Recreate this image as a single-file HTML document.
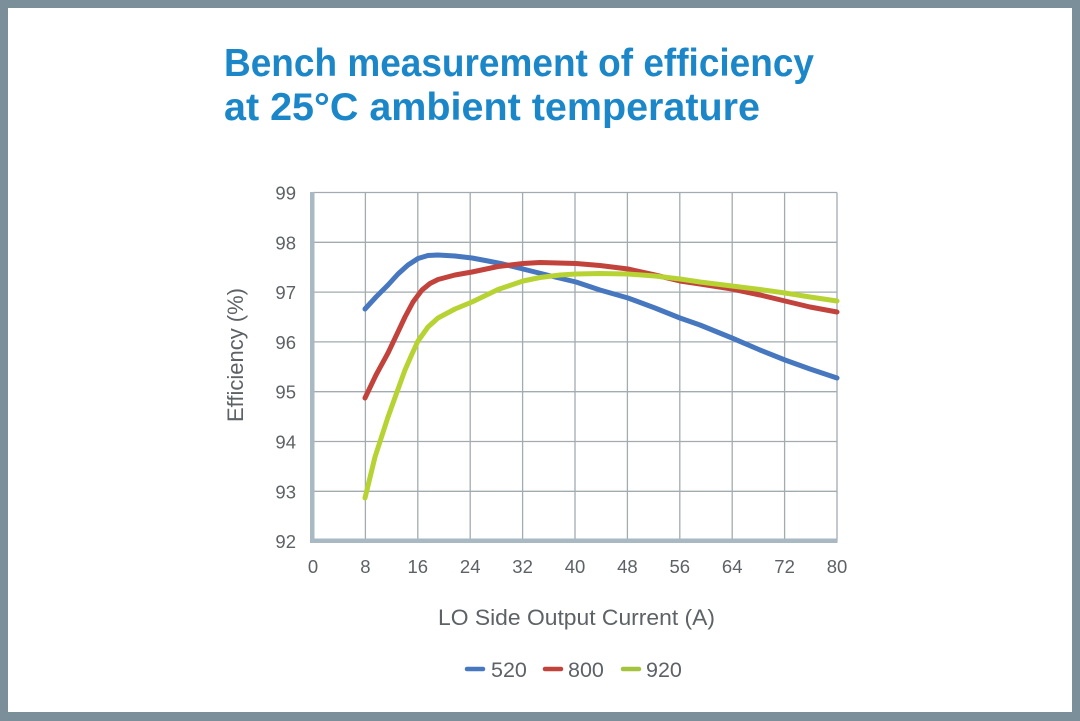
<!DOCTYPE html>
<html>
<head>
<meta charset="utf-8">
<style>
  html,body{margin:0;padding:0;background:#7b8f9a;}
  svg{display:block;}
  text{font-family:"Liberation Sans",sans-serif;}
</style>
</head>
<body>
<svg width="1080" height="721" viewBox="0 0 1080 721" xmlns="http://www.w3.org/2000/svg">
  <rect x="0" y="0" width="1080" height="721" fill="#7b8f9a"/>
  <rect x="8" y="8" width="1064" height="704" fill="#ffffff"/>

  <!-- Title -->
  <text x="224" y="76" font-size="39" font-weight="bold" fill="#1b87c9" textLength="590" lengthAdjust="spacingAndGlyphs">Bench measurement of efficiency</text>
  <text x="224" y="120" font-size="39" font-weight="bold" fill="#1b87c9" textLength="536" lengthAdjust="spacingAndGlyphs">at 25°C ambient temperature</text>

  <!-- Grid -->
  <g stroke="#a2abb0" stroke-width="1.3" fill="none">
    <line x1="313" y1="192.5" x2="837" y2="192.5"/>
    <line x1="313" y1="242.3" x2="837" y2="242.3"/>
    <line x1="313" y1="292.1" x2="837" y2="292.1"/>
    <line x1="313" y1="341.9" x2="837" y2="341.9"/>
    <line x1="313" y1="391.7" x2="837" y2="391.7"/>
    <line x1="313" y1="441.5" x2="837" y2="441.5"/>
    <line x1="313" y1="491.3" x2="837" y2="491.3"/>
    <line x1="365.4" y1="192.5" x2="365.4" y2="541"/>
    <line x1="417.8" y1="192.5" x2="417.8" y2="541"/>
    <line x1="470.2" y1="192.5" x2="470.2" y2="541"/>
    <line x1="522.6" y1="192.5" x2="522.6" y2="541"/>
    <line x1="575" y1="192.5" x2="575" y2="541"/>
    <line x1="627.4" y1="192.5" x2="627.4" y2="541"/>
    <line x1="679.8" y1="192.5" x2="679.8" y2="541"/>
    <line x1="732.2" y1="192.5" x2="732.2" y2="541"/>
    <line x1="784.6" y1="192.5" x2="784.6" y2="541"/>
    <line x1="837" y1="192.5" x2="837" y2="541"/>
  </g>
  <!-- Axes (thick) -->
  <rect x="310" y="192" width="4.5" height="351" fill="#a9b9c3"/>
  <rect x="310" y="538.5" width="527.5" height="4.5" fill="#a9b9c3"/>

  <!-- Y tick labels -->
  <g font-size="18.5" fill="#5d6266" text-anchor="end">
    <text x="296" y="199.5">99</text>
    <text x="296" y="249.3">98</text>
    <text x="296" y="299.1">97</text>
    <text x="296" y="348.9">96</text>
    <text x="296" y="398.7">95</text>
    <text x="296" y="448.5">94</text>
    <text x="296" y="498.3">93</text>
    <text x="296" y="548">92</text>
  </g>
  <!-- X tick labels -->
  <g font-size="18.5" fill="#5d6266" text-anchor="middle">
    <text x="313" y="573">0</text>
    <text x="365.4" y="573">8</text>
    <text x="417.8" y="573">16</text>
    <text x="470.2" y="573">24</text>
    <text x="522.6" y="573">32</text>
    <text x="575" y="573">40</text>
    <text x="627.4" y="573">48</text>
    <text x="679.8" y="573">56</text>
    <text x="732.2" y="573">64</text>
    <text x="784.6" y="573">72</text>
    <text x="837" y="573">80</text>
  </g>

  <!-- Axis titles -->
  <text x="438" y="625" font-size="22" fill="#5d6266" textLength="277" lengthAdjust="spacingAndGlyphs">LO Side Output Current (A)</text>
  <text transform="translate(243,355) rotate(-90)" x="0" y="0" font-size="22" fill="#5d6266" text-anchor="middle" textLength="134" lengthAdjust="spacingAndGlyphs">Efficiency (%)</text>

  <!-- Series -->
  <g fill="none" stroke-width="5" stroke-linecap="round" stroke-linejoin="round">
    <polyline stroke="#4677bf" points="365,309 376,297 388,285 398,274 408,265 418,258.5 428,255.5 438,255 455,256 472,258 488,261 503,264 523,269 555,277 576,282 600,290 628,298 655,308 680,318 700,325 732,338 760,350 785,360 810,369 837,378"/>
    <polyline stroke="#c2433c" points="365,398 376,375 388,353 397,334 405,317 413,302 422,290 430,283.5 438,279.5 455,275 472,272 498,266.5 523,263.5 540,262.5 576,263.5 600,265.5 628,269 655,275 680,281 700,284 732,289 760,295 785,301 810,307 837,312"/>
    <polyline stroke="#b6d333" points="365,498 375,457 388,417 397,392 405,370 412,354 418,341 428,327 438,318 455,309 472,302 498,289.5 523,281 540,277.5 560,275 576,274 600,273.5 628,274 655,276 680,279 700,282 732,286 760,289.5 785,293 810,297 837,301"/>
  </g>

  <!-- Legend -->
  <g stroke-width="4.5" stroke-linecap="round">
    <line x1="467" y1="669" x2="483" y2="669" stroke="#4677bf"/>
    <line x1="545" y1="669" x2="561" y2="669" stroke="#c2433c"/>
    <line x1="623" y1="669" x2="639" y2="669" stroke="#a3c43c"/>
  </g>
  <g font-size="21.5" fill="#5d6266">
    <text x="491" y="677">520</text>
    <text x="568" y="677">800</text>
    <text x="646" y="677">920</text>
  </g>
</svg>
</body>
</html>
